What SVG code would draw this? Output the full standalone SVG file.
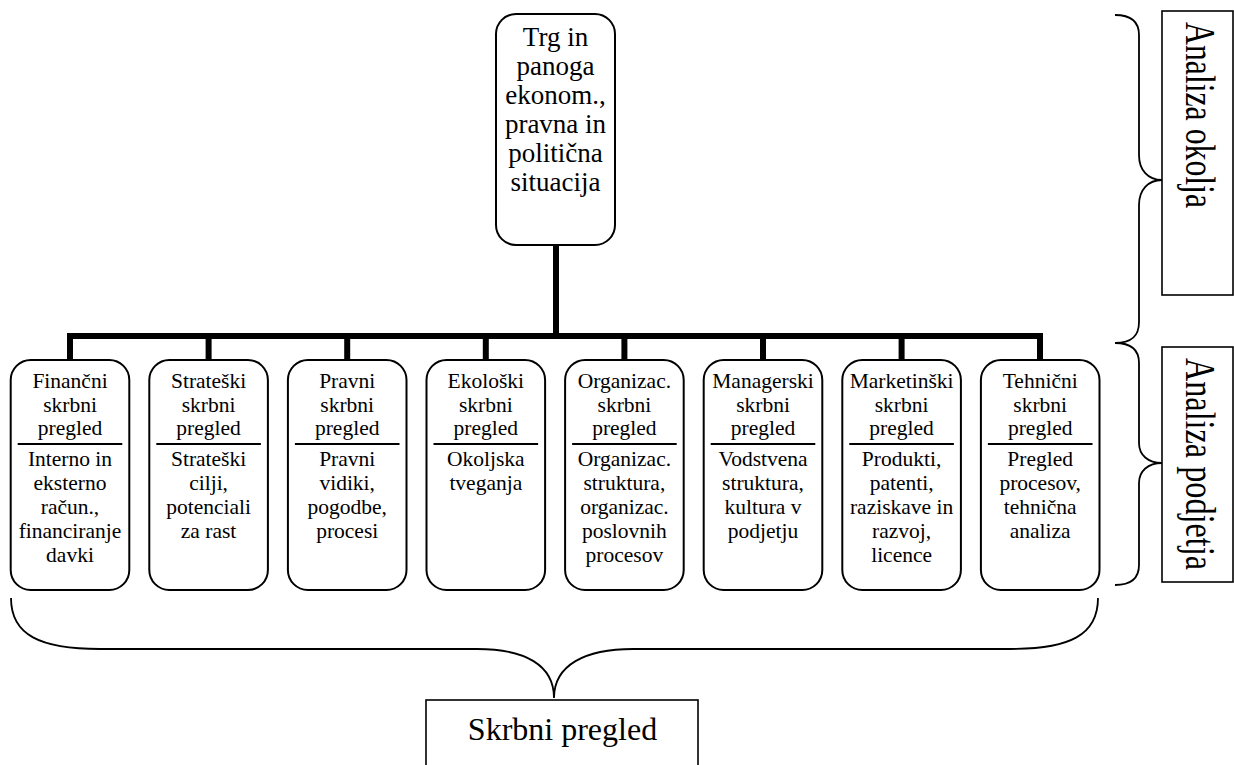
<svg xmlns="http://www.w3.org/2000/svg" width="1234" height="765" viewBox="0 0 1234 765">
<style>
text{font-family:'Liberation Serif','Times New Roman',serif;fill:#000}
.box{fill:#fff;stroke:#000;stroke-width:2}
.sq{fill:#fff;stroke:#000;stroke-width:1.6}
.div{stroke:#000;stroke-width:2}
.t{font-size:21.5px;text-anchor:middle}
.tt{font-size:27px;text-anchor:middle}
.big{font-size:32px;text-anchor:middle}
.rot{font-size:43px}
.brace{fill:none;stroke:#000;stroke-width:1.8}
.conn{fill:none;stroke:#000;stroke-width:6}
</style>
<rect width="1234" height="765" fill="#fff"/>
<g id="connectors">
<line class="conn" x1="556" y1="245" x2="556" y2="336"/>
<line class="conn" x1="67" y1="336" x2="1043" y2="336"/>
<line class="conn" x1="70" y1="336" x2="70" y2="360"/>
<line class="conn" x1="208.6" y1="336" x2="208.6" y2="360"/>
<line class="conn" x1="347.2" y1="336" x2="347.2" y2="360"/>
<line class="conn" x1="485.8" y1="336" x2="485.8" y2="360"/>
<line class="conn" x1="624.4" y1="336" x2="624.4" y2="360"/>
<line class="conn" x1="763" y1="336" x2="763" y2="360"/>
<line class="conn" x1="901.6" y1="336" x2="901.6" y2="360"/>
<line class="conn" x1="1040" y1="336" x2="1040" y2="360"/>
</g>
<g id="top">
<rect class="box" x="496" y="14" width="119" height="231" rx="20"/>
<text class="tt" x="555.5" y="46">Trg in</text>
<text class="tt" x="555.5" y="75">panoga</text>
<text class="tt" x="555.5" y="104">ekonom.,</text>
<text class="tt" x="555.5" y="133">pravna in</text>
<text class="tt" x="555.5" y="162">politična</text>
<text class="tt" x="555.5" y="191">situacija</text>
</g>
<g id="n1">
<rect class="box" x="10.7" y="360" width="118.6" height="230" rx="20"/>
<line class="div" x1="17.7" y1="444" x2="122.3" y2="444"/>
<text class="t" x="70" y="388">Finančni</text><text class="t" x="70" y="411.5">skrbni</text><text class="t" x="70" y="435">pregled</text>
<text class="t" x="70" y="466">Interno in</text><text class="t" x="70" y="490">eksterno</text><text class="t" x="70" y="514">račun.,</text><text class="t" x="70" y="538">financiranje</text><text class="t" x="70" y="562">davki</text>
</g>
<g id="n2">
<rect class="box" x="149.3" y="360" width="118.6" height="230" rx="20"/>
<line class="div" x1="156.3" y1="444" x2="260.9" y2="444"/>
<text class="t" x="208.6" y="388">Strateški</text><text class="t" x="208.6" y="411.5">skrbni</text><text class="t" x="208.6" y="435">pregled</text>
<text class="t" x="208.6" y="466">Strateški</text><text class="t" x="208.6" y="490">cilji,</text><text class="t" x="208.6" y="514">potenciali</text><text class="t" x="208.6" y="538">za rast</text>
</g>
<g id="n3">
<rect class="box" x="287.9" y="360" width="118.6" height="230" rx="20"/>
<line class="div" x1="294.9" y1="444" x2="399.5" y2="444"/>
<text class="t" x="347.2" y="388">Pravni</text><text class="t" x="347.2" y="411.5">skrbni</text><text class="t" x="347.2" y="435">pregled</text>
<text class="t" x="347.2" y="466">Pravni</text><text class="t" x="347.2" y="490">vidiki,</text><text class="t" x="347.2" y="514">pogodbe,</text><text class="t" x="347.2" y="538">procesi</text>
</g>
<g id="n4">
<rect class="box" x="426.5" y="360" width="118.6" height="230" rx="20"/>
<line class="div" x1="433.5" y1="444" x2="538.1" y2="444"/>
<text class="t" x="485.8" y="388">Ekološki</text><text class="t" x="485.8" y="411.5">skrbni</text><text class="t" x="485.8" y="435">pregled</text>
<text class="t" x="485.8" y="466">Okoljska</text><text class="t" x="485.8" y="490">tveganja</text>
</g>
<g id="n5">
<rect class="box" x="565.1" y="360" width="118.6" height="230" rx="20"/>
<line class="div" x1="572.1" y1="444" x2="676.7" y2="444"/>
<text class="t" x="624.4" y="388">Organizac.</text><text class="t" x="624.4" y="411.5">skrbni</text><text class="t" x="624.4" y="435">pregled</text>
<text class="t" x="624.4" y="466">Organizac.</text><text class="t" x="624.4" y="490">struktura,</text><text class="t" x="624.4" y="514">organizac.</text><text class="t" x="624.4" y="538">poslovnih</text><text class="t" x="624.4" y="562">procesov</text>
</g>
<g id="n6">
<rect class="box" x="703.7" y="360" width="118.6" height="230" rx="20"/>
<line class="div" x1="710.7" y1="444" x2="815.3" y2="444"/>
<text class="t" x="763" y="388">Managerski</text><text class="t" x="763" y="411.5">skrbni</text><text class="t" x="763" y="435">pregled</text>
<text class="t" x="763" y="466">Vodstvena</text><text class="t" x="763" y="490">struktura,</text><text class="t" x="763" y="514">kultura v</text><text class="t" x="763" y="538">podjetju</text>
</g>
<g id="n7">
<rect class="box" x="842.3" y="360" width="118.6" height="230" rx="20"/>
<line class="div" x1="849.3" y1="444" x2="953.9" y2="444"/>
<text class="t" x="901.6" y="388">Marketinški</text><text class="t" x="901.6" y="411.5">skrbni</text><text class="t" x="901.6" y="435">pregled</text>
<text class="t" x="901.6" y="466">Produkti,</text><text class="t" x="901.6" y="490">patenti,</text><text class="t" x="901.6" y="514">raziskave in</text><text class="t" x="901.6" y="538">razvoj,</text><text class="t" x="901.6" y="562">licence</text>
</g>
<g id="n8">
<rect class="box" x="980.9" y="360" width="118.6" height="230" rx="20"/>
<line class="div" x1="987.9" y1="444" x2="1092.5" y2="444"/>
<text class="t" x="1040.2" y="388">Tehnični</text><text class="t" x="1040.2" y="411.5">skrbni</text><text class="t" x="1040.2" y="435">pregled</text>
<text class="t" x="1040.2" y="466">Pregled</text><text class="t" x="1040.2" y="490">procesov,</text><text class="t" x="1040.2" y="514">tehnična</text><text class="t" x="1040.2" y="538">analiza</text>
</g>
<g id="braces">
<path class="brace" d="M1115,15 C1132,15 1139,22 1139,35 L1139,155 C1139,170 1148,180 1162,180 C1148,180 1139,190 1139,205 L1139,322 C1139,336 1132,343 1115,343"/>
<path class="brace" d="M1115,343 C1132,343 1139,350 1139,363 L1139,443 C1139,455 1148,463 1162,463 C1148,463 1139,471 1139,483 L1139,565 C1139,578 1132,585 1115,585"/>
<path class="brace" d="M11,598 C11,635 40,649 100,649 L477,649 C525,649 554,665 554,698 C554,665 585,649 633,649 L1010,649 C1070,649 1098,635 1098,598"/>
</g>
<g id="okolje">
<rect class="sq" x="1162" y="11" width="71" height="284"/>
<text class="rot" transform="translate(1186,22) rotate(90)" textLength="186" lengthAdjust="spacingAndGlyphs">Analiza okolja</text>
</g>
<g id="podjetje">
<rect class="sq" x="1162" y="347" width="71" height="235"/>
<text class="rot" transform="translate(1186,358) rotate(90)" textLength="212" lengthAdjust="spacingAndGlyphs">Analiza podjetja</text>
</g>
<g id="skrbni">
<rect class="sq" x="426" y="700" width="272" height="80"/>
<text class="big" x="562.5" y="740">Skrbni pregled</text>
</g>
</svg>
